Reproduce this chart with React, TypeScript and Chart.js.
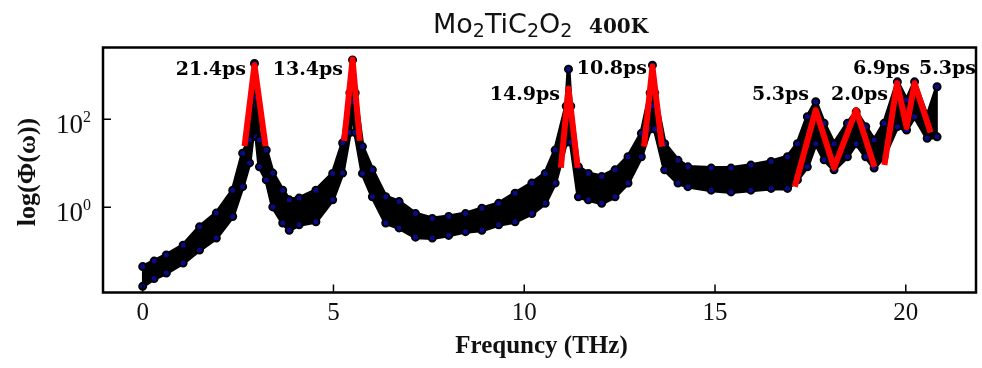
import React, { useEffect, useRef } from "react";
import { Chart, registerables } from "chart.js";

Chart.register(...registerables);

// ---- data ----
const freqs = [
  0.0, 0.3, 0.62, 1.06, 1.49, 1.93, 2.36, 2.62, 2.8, 2.88, 2.93, 2.98, 3.06, 3.24, 3.41, 3.67, 3.84,
  4.1, 4.54, 4.98, 5.24, 5.43, 5.5, 5.57, 5.76, 6.02, 6.37, 6.72, 7.15, 7.59, 8.02, 8.46, 8.89,
  9.33, 9.76, 10.2, 10.55, 10.81, 11.1, 11.16, 11.22, 11.42, 11.68, 12.03, 12.38, 12.72, 13.07,
  13.3, 13.36, 13.42, 13.68, 14.03, 14.29, 14.9, 15.42, 15.94, 16.47, 16.9, 17.16, 17.42, 17.64,
  17.86, 18.12, 18.47, 18.7, 18.95, 19.17, 19.43, 19.78, 20.02, 20.23, 20.56, 20.82,
];
const upperPhi = [
  0.045, 0.06, 0.083, 0.138, 0.36, 0.74, 2.45, 17, 34, 300, 1860, 300, 34, 20, 6.0, 2.45, 1.48,
  1.62, 2.45, 5.9, 29, 400, 2240, 400, 24, 7.1, 1.74, 1.35, 0.72, 0.56, 0.62, 0.72, 0.95,
  1.23, 2.09, 3.55, 5.9, 20, 200, 1380, 200, 8.3, 5.9, 5.0, 7.1, 14.1, 48,
  400, 1700, 400, 28, 11.7, 8.3, 7.8, 7.8, 9.1, 11.0, 14.1, 28, 115, 250,
  81, 28, 81, 148, 68, 34, 81, 710, 275, 710, 115, 550,
];
const lowerPhi = [
  0.016, 0.024, 0.032, 0.054, 0.107, 0.2, 0.62, 2.95, 10.2, 40, 200, 40, 8.3, 4.2, 1.02, 0.44, 0.3,
  0.4, 0.47, 1.48, 6.0, 50, 250, 50, 5.9, 1.74, 0.44, 0.34, 0.21, 0.2, 0.23, 0.28, 0.3,
  0.4, 0.47, 0.72, 1.23, 3.55, 30, 100, 30, 1.74, 1.48, 1.23, 1.74, 3.55, 14.1,
  60, 200, 60, 7.1, 3.55, 2.95, 2.45, 2.24, 2.45, 2.69, 2.69, 4.2, 8.3, 28,
  12, 7.1, 14.1, 28, 14.1, 7.8, 14.1, 68, 57, 115, 37, 40,
];

// red peak fits [freq, Phi]
const fit21p4 = [[2.67, 24.5], [2.93, 1700], [3.22, 24.5]];
const fit13p4 = [[5.28, 32.4], [5.5, 2290], [5.69, 32.4]];
const fit14p9 = [[10.96, 7.94], [11.16, 501], [11.4, 7.94]];
const fit10p8 = [[13.14, 24.0], [13.36, 1585], [13.61, 24.0]];
const fitHighA = [[17.09, 2.94], [17.64, 162], [18.12, 7.94], [18.7, 162], [19.18, 8.32]];
const fitHighB = [[19.44, 9.12], [19.77, 661], [20.02, 66.1], [20.23, 661], [20.65, 50.1]];

const lifetimeLabels = ["21.4ps", "13.4ps", "14.9ps", "10.8ps", "5.3ps", "2.0ps", "6.9ps", "5.3ps"];
const xTickValues = [0, 5, 10, 15, 20];
const yTickValues = [1, 100];
const yTickExponents = ["0", "2"];
const xTitle = "Frequncy (THz)";
const yTitle = "log(Φ(ω))";

// label placement (right edge px, baseline px)
const labelPlacement = [
  [246, 74.5], [343, 74.5], [560, 99.5], [647, 74], [809, 100], [888, 100], [910, 74], [976, 74],
];

// fills the dense scatter band between the upper and lower envelopes, piece by piece (convex quads)
const bandFillPlugin = {
  id: "bandFill",
  beforeDatasetsDraw(chart: any) {
    const { ctx, chartArea: a } = chart;
    const xs = chart.scales.x;
    const ys = chart.scales.y;
    ctx.save();
    ctx.beginPath();
    ctx.rect(a.left, a.top, a.right - a.left, a.bottom - a.top);
    ctx.clip();
    ctx.fillStyle = "#000";
    ctx.strokeStyle = "#000";
    ctx.lineWidth = 1.5;
    ctx.lineJoin = "round";
    for (let i = 0; i < freqs.length - 1; i++) {
      const x0 = xs.getPixelForValue(freqs[i]);
      const x1 = xs.getPixelForValue(freqs[i + 1]);
      ctx.beginPath();
      ctx.moveTo(x0, ys.getPixelForValue(upperPhi[i]));
      ctx.lineTo(x1, ys.getPixelForValue(upperPhi[i + 1]));
      ctx.lineTo(x1, ys.getPixelForValue(lowerPhi[i + 1]));
      ctx.lineTo(x0, ys.getPixelForValue(lowerPhi[i]));
      ctx.closePath();
      ctx.fill();
      ctx.stroke();
    }
    ctx.restore();
  },
};

const overlayPlugin = {
  id: "overlay",
  afterDraw(chart: any) {
    const { ctx, chartArea: a } = chart;
    const xs = chart.scales.x;
    const ys = chart.scales.y;
    ctx.save();
    ctx.strokeStyle = "#000";
    ctx.lineWidth = 2.5;
    ctx.strokeRect(a.left, a.top, a.right - a.left, a.bottom - a.top);
    ctx.lineWidth = 1.5;
    ctx.beginPath();
    xTickValues.forEach((v) => {
      const px = xs.getPixelForValue(v);
      ctx.moveTo(px, a.bottom);
      ctx.lineTo(px, a.bottom - 8);
    });
    yTickValues.forEach((v) => {
      const py = ys.getPixelForValue(v);
      ctx.moveTo(a.left, py);
      ctx.lineTo(a.left + 8, py);
    });
    ctx.stroke();

    ctx.fillStyle = "#111";
    ctx.textBaseline = "alphabetic";
    ctx.font = '25px "Liberation Serif"';
    ctx.textAlign = "center";
    xTickValues.forEach((v) => {
      ctx.fillText(String(v), xs.getPixelForValue(v), a.bottom + 27.5);
    });
    yTickValues.forEach((v, i) => {
      const py = ys.getPixelForValue(v);
      ctx.font = '27px "Liberation Serif"';
      ctx.textAlign = "right";
      ctx.fillText("10", a.left - 20, py + 14);
      ctx.font = '16px "Liberation Serif"';
      ctx.textAlign = "left";
      ctx.fillText(yTickExponents[i], a.left - 20, py + 2.5);
    });

    // axis titles
    ctx.font = 'bold 25px "Liberation Serif"';
    ctx.textAlign = "center";
    ctx.fillText(xTitle, (a.left + a.right) / 2 + 2, a.bottom + 60.5);
    ctx.save();
    ctx.translate(28.5, 172);
    ctx.rotate(-Math.PI / 2);
    ctx.font = 'bold 26px "Liberation Serif"';
    ctx.textBaseline = "middle";
    ctx.fillText(yTitle, 0, 0);
    ctx.restore();

    // chart title: Mo2TiC2O2 400K
    ctx.textAlign = "left";
    ctx.textBaseline = "alphabetic";
    let tx = 433;
    const ty = 33.3;
    const parts: [string, boolean][] = [
      ["Mo", false], ["2", true], ["TiC", false], ["2", true], ["O", false], ["2", true],
    ];
    parts.forEach(([t, sub]) => {
      ctx.font = sub ? '19px "DejaVu Sans"' : '27px "DejaVu Sans"';
      ctx.fillText(t, tx, sub ? ty + 4 : ty);
      tx += ctx.measureText(t).width;
    });
    ctx.font = 'bold 20px "DejaVu Serif"';
    ctx.fillText("400K", 589, ty);

    // lifetime annotations
    ctx.font = 'bold 19px "DejaVu Serif"';
    ctx.textAlign = "right";
    ctx.fillStyle = "#000";
    lifetimeLabels.forEach((t, i) => {
      ctx.fillText(t, labelPlacement[i][0], labelPlacement[i][1]);
    });
    ctx.restore();
  },
};

function toPoints(pairs: number[][]) {
  return pairs.map(([x, y]) => ({ x, y }));
}

export default function App() {
  const ref = useRef<HTMLCanvasElement | null>(null);
  useEffect(() => {
    if (!ref.current) return;
    const upper = freqs.map((f, i) => ({ x: f, y: upperPhi[i] }));
    const lower = freqs.map((f, i) => ({ x: f, y: lowerPhi[i] }));
    const redStyle = {
      showLine: true,
      borderColor: "#ff0000",
      borderWidth: 6,
      borderJoinStyle: "round" as const,
      borderCapStyle: "butt" as const,
      pointRadius: 0,
      tension: 0,
      fill: false,
      order: 0,
    };
    const bandStyle = {
      showLine: true,
      fill: false,
      borderColor: "#000",
      borderWidth: 4,
      borderJoinStyle: "round" as const,
      tension: 0,
      pointRadius: 3.5,
      pointBackgroundColor: "#0b0b8a",
      pointBorderColor: "#000",
      pointBorderWidth: 2,
      order: 2,
    };
    const fits = [fit21p4, fit13p4, fit14p9, fit10p8, fitHighA, fitHighB];
    const chart = new Chart(ref.current, {
      type: "scatter",
      data: {
        datasets: [
          ...fits.map((f, i) => ({ label: "fit" + i, data: toPoints(f), ...redStyle })),
          { label: "upper", data: upper, ...bandStyle },
          { label: "lower", data: lower, ...bandStyle },
        ] as any,
      },
      options: {
        responsive: false,
        animation: false,
        devicePixelRatio: 1,
        layout: { padding: { top: 47.5, right: 3, left: 0, bottom: 0 } },
        plugins: { legend: { display: false }, tooltip: { enabled: false }, title: { display: false } },
        scales: {
          x: {
            type: "linear",
            min: -1.04,
            max: 21.84,
            grid: { display: false },
            border: { display: false },
            ticks: { display: false },
            afterFit: (s: any) => {
              s.height = 75.5;
            },
          },
          y: {
            type: "logarithmic",
            min: 0.01159,
            max: 4285,
            grid: { display: false },
            border: { display: false },
            ticks: { display: false },
            afterFit: (s: any) => {
              s.width = 103;
            },
          },
        },
      },
      plugins: [bandFillPlugin, overlayPlugin],
    });
    return () => chart.destroy();
  }, []);
  return (
    <div style={{ position: "absolute", left: 0, top: 0, width: 982, height: 368, background: "#fff" }}>
      <canvas ref={ref} width={982} height={368} style={{ width: 982, height: 368 }} />
    </div>
  );
}
